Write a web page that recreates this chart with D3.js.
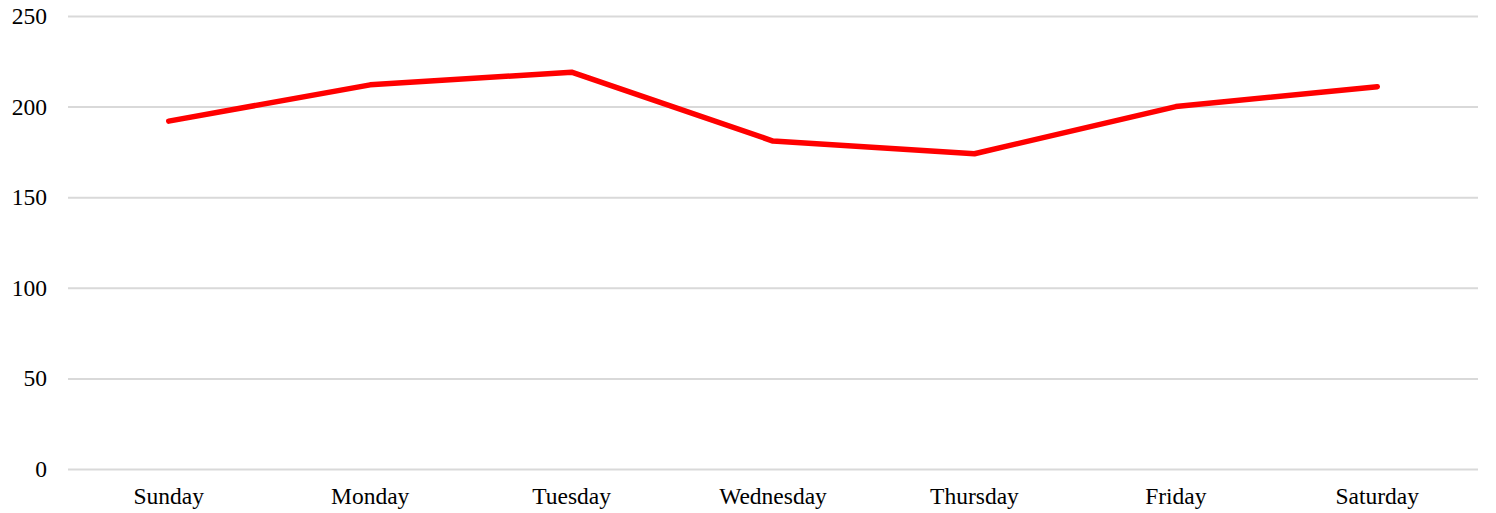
<!DOCTYPE html>
<html><head><meta charset="utf-8">
<script src="https://cdn.jsdelivr.net/npm/d3@7"></script>
<style>body{margin:0;background:#fff;}svg{display:block;}</style>
</head><body>
<svg id="chart" width="1496" height="513"></svg>
<script>
const categories = ["Sunday","Monday","Tuesday","Wednesday","Thursday","Friday","Saturday"];
const values = [192, 212, 219, 181, 174, 200, 211];
const yTicks = [0, 50, 100, 150, 200, 250];

const svg = d3.select("#chart");
const margin = {left: 68, right: 18, top: 16, bottom: 44};
const W = 1496, H = 513;
const x = d3.scaleBand().domain(categories).range([margin.left, W - margin.right]);
const y = d3.scaleLinear().domain([0, 250]).range([H - margin.bottom, margin.top]);
const font = "'Liberation Serif','Times New Roman',serif";

const yAxis = svg.append("g").attr("transform", `translate(${margin.left},0)`)
  .call(d3.axisLeft(y).tickValues(yTicks).tickSize(-(W - margin.left - margin.right)).tickPadding(21));
yAxis.select(".domain").remove();
yAxis.selectAll(".tick line").attr("stroke", "#d9d9d9").attr("stroke-width", 2);
yAxis.selectAll(".tick text").attr("font-family", font).attr("font-size", 23.5).attr("fill", "#000");

const xAxis = svg.append("g").attr("transform", `translate(0,${H - margin.bottom})`)
  .call(d3.axisBottom(x).tickSize(0).tickPadding(18));
xAxis.select(".domain").remove();
xAxis.selectAll(".tick text").attr("font-family", font).attr("font-size", 23.5).attr("fill", "#000");

const line = d3.line().x((d, i) => x(categories[i]) + x.bandwidth() / 2).y(d => y(d));
svg.append("path").datum(values).attr("d", line).attr("fill", "none")
  .attr("stroke", "#ff0000").attr("stroke-width", 5.5)
  .attr("stroke-linejoin", "round").attr("stroke-linecap", "round");
</script>
</body></html>
